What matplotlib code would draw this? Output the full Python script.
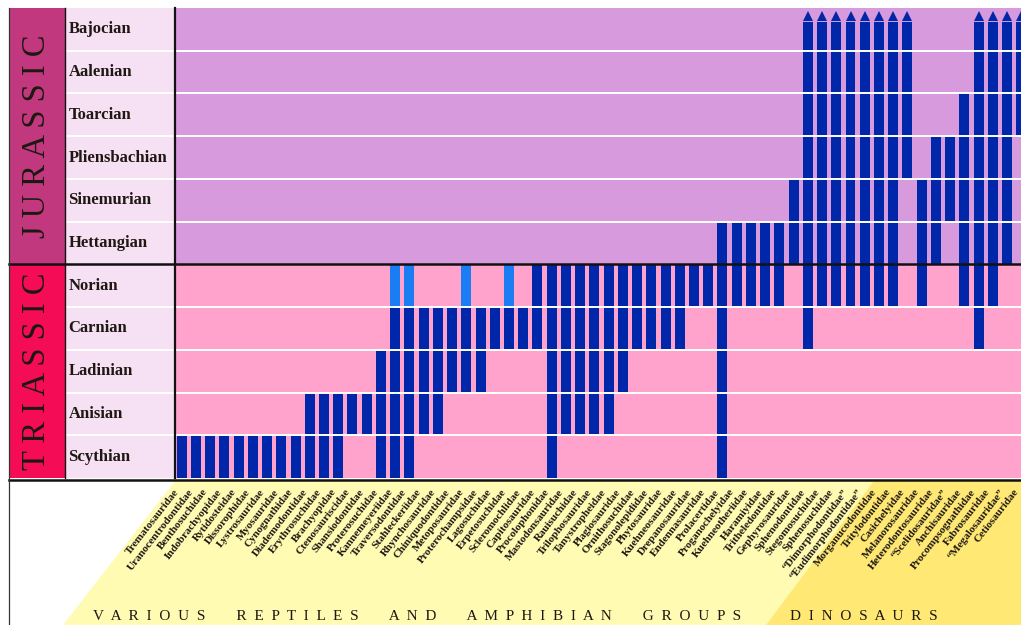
import matplotlib
matplotlib.use("Agg")
import matplotlib.pyplot as plt
from matplotlib.patches import Rectangle, Polygon
from matplotlib.lines import Line2D

# ---------------- data ----------------
stages = ["Scythian", "Anisian", "Ladinian", "Carnian", "Norian",
          "Hettangian", "Sinemurian", "Pliensbachian", "Toarcian",
          "Aalenian", "Bajocian"]
periods = ["TRIASSIC", "JURASSIC"]
period_first = [0, 5]
period_last = [4, 10]

families = [
    "Trematosauridae", "Uranocentrodontidae", "Benthosuchidae", "Indobrachyopidae",
    "Rytidosteidae", "Dissorophidae", "Lystrosauridae", "Myosauridae",
    "Cynognathidae", "Diademodontidae", "Erythrosuchidae", "Brachyopidae",
    "Ctenosauriscidae", "Shansiodontidae", "Proterosuchidae", "Kannemeyeriidae",
    "Traversodontidae", "Stahleckeriidae", "Rhynchosauridae", "Chiniquodontidae",
    "Metoposauridae", "Proterochampsidae", "Lagosuchidae", "Erpetosuchidae",
    "Scleromochlidae", "Capitosauridae", "Procolophonidae", "Mastodonsauridae",
    "Rauisuchidae", "Trilophosauridae", "Tanystropheidae", "Plagiosauridae",
    "Ornithosuchidae", "Stagonolepididae", "Phytosauridae", "Kuehneosauridae",
    "Drepanosauridae", "Endennasauridae", "Prolacertidae", "Proganochelyidae",
    "Kuehneotheriidae", "Haramiyidae", "Tritheledontidae", "Gephyrosauridae",
    "Sphenodontidae", "Stegomosuchidae", "Sphenosuchidae", "\u201cDimorphodontidae\u201d",
    "\u201cEudimorphodontidae\u201d", "Morganucodontidae", "Tritylodontidae", "Casichelyidae",
    "Melanorosauridae", "Heterodontosauridae", "\u201cScelidosauridae\u201d", "Anchisauridae",
    "Procompsognathidae", "Fabrosauridae", "\u201cMegalosauridae\u201d", "Cetiosauridae",
]
# index of first and last stage (0 = Scythian ... 10 = Bajocian)
first_stage = [0, 0, 0, 0, 0, 0, 0, 0, 0, 0, 0, 0, 1, 1, 0, 0,
               0, 1, 1, 2, 2, 2, 3, 3, 3, 3, 0, 1, 1, 1, 1, 2,
               3, 3, 3, 3, 4, 4, 0, 4, 4, 4, 4, 5, 3, 4, 4, 4,
               4, 4, 4, 7, 4, 5, 6, 4, 3, 4, 5, 8]
last_stage = [0, 0, 0, 0, 0, 0, 0, 0, 0, 1, 1, 1, 1, 1, 2, 4,
              4, 3, 3, 3, 4, 3, 3, 4, 3, 4, 4, 4, 4, 4, 4, 4,
              4, 4, 4, 4, 4, 4, 5, 5, 5, 5, 5, 6, 10, 10, 10, 10,
              10, 10, 10, 10, 6, 7, 7, 8, 10, 10, 10, 10]
# families whose Norian record is uncertain (light bars)
uncertain_norian = [15, 16, 20, 23]

group_titles = ["VARIOUS REPTILES AND AMPHIBIAN GROUPS", "DINOSAURS"]

# ---------------- style ----------------
W, H = 1021, 625
BAR = "#0027a9"
BAR_LIGHT = "#1a7df4"
JUR_BG = "#d79add"
TRI_BG = "#ffa2cc"
JUR_HDR = "#c2387f"
TRI_HDR = "#f50c57"
STAGE_BG = "#f6e0f3"
Y_LIGHT = "#fffbb2"
Y_DARK = "#ffe874"
TXT = "#1e1812"
SERIF = ["Liberation Serif", "DejaVu Serif"]


def spaced(title, gap=2, word_gap=8):
    return (" " * word_gap).join((" " * gap).join(w) for w in title.split())


fig = plt.figure(figsize=(W / 100, H / 100), dpi=100)
fig.patch.set_facecolor("white")

# background (pixel coordinates) for the bottom label area
bg = fig.add_axes([0, 0, 1, 1], zorder=0)
bg.set_xlim(0, W)
bg.set_ylim(H, 0)
bg.axis("off")
bg.add_patch(Polygon([(175, 481), (W, 481), (W, H), (63, H)], closed=True,
                     facecolor=Y_LIGHT, edgecolor="none"))
bg.add_patch(Polygon([(874, 481), (W, 481), (W, H), (766, H)], closed=True,
                     facecolor=Y_DARK, edgecolor="none"))
bg.text(93, 617, spaced(group_titles[0]), fontsize=11, family=SERIF, color=TXT,
        ha="left", va="center")
bg.text(790, 617, spaced(group_titles[1]), fontsize=11, family=SERIF, color=TXT,
        ha="left", va="center")

top_px, bot_px = 8, 478
nrows = len(stages)

# header axes (period + stage names)
hdr = fig.add_axes([9 / W, (H - bot_px) / H, (174 - 9) / W, (bot_px - top_px) / H], zorder=2)
hdr.set_xlim(9, 174)
hdr.set_ylim(0, nrows)
hdr.axis("off")
for name, f, l, c in zip(periods, period_first, period_last, [TRI_HDR, JUR_HDR]):
    hdr.add_patch(Rectangle((9, f), 56, l - f + 1, facecolor=c, edgecolor="none"))
    hdr.text(37, (f + l + 1) / 2, " ".join(name), rotation=90, ha="center", va="center",
             fontsize=23.5, family=SERIF, color=TXT)
hdr.add_patch(Rectangle((65, 0), 109, nrows, facecolor=STAGE_BG, edgecolor="none"))
for k, s in enumerate(stages):
    hdr.text(68.5, k + 0.5, s, ha="left", va="center", fontsize=12, family=SERIF,
             color=TXT, fontweight="bold")
for k in range(1, nrows):
    if k != 5:
        hdr.plot([65, 174], [k, k], color="white", lw=1.4, solid_capstyle="butt")

# main chart axes
ax = fig.add_axes([175 / W, (H - bot_px) / H, (W - 175) / W, (bot_px - top_px) / H], zorder=2)
x0 = (175 - 181.7) / 14.23
x1 = (W - 181.7) / 14.23
ax.set_xlim(x0, x1)
ax.set_ylim(0, nrows)
ax.axis("off")
ax.add_patch(Rectangle((x0, 0), x1 - x0, 5, facecolor=TRI_BG, edgecolor="none", zorder=0))
ax.add_patch(Rectangle((x0, 5), x1 - x0, 6, facecolor=JUR_BG, edgecolor="none", zorder=0))

xs = list(range(len(families)))
tops = [l + 1 if l < nrows - 1 else nrows - 0.32 for l in last_stage]
heights = [t - f for t, f in zip(tops, first_stage)]
ax.bar(xs, heights, bottom=first_stage, width=0.70, color=BAR, linewidth=0, zorder=2)
ax.bar(uncertain_norian, [1] * len(uncertain_norian), bottom=4, width=0.70,
       color=BAR_LIGHT, linewidth=0, zorder=3)
arrow_x = [i for i, l in enumerate(last_stage) if l == nrows - 1]
ax.plot(arrow_x, [nrows - 0.19] * len(arrow_x), linestyle="none", marker="^",
        markersize=7.5, color=BAR, markeredgewidth=0, zorder=3, clip_on=False)
for k in range(1, nrows):
    if k != 5:
        ax.plot([x0, x1], [k, k], color="white", lw=1.4, zorder=4, solid_capstyle="butt")

# family labels
for i, name in enumerate(families):
    ax.text(i - 0.3, -0.026, name, rotation=52, rotation_mode="anchor",
            ha="right", va="center", fontsize=7.9, family=SERIF, color=TXT,
            fontweight="bold", transform=ax.get_xaxis_transform(), clip_on=False)

# frame lines (pixel coordinates overlay)
ov = fig.add_axes([0, 0, 1, 1], zorder=5)
ov.set_xlim(0, W)
ov.set_ylim(H, 0)
ov.axis("off")
ov.patch.set_alpha(0)
y_bound = bot_px - 5 * (bot_px - top_px) / nrows
ov.add_line(Line2D([9, W], [y_bound, y_bound], color="#111111", lw=1.8))
ov.add_line(Line2D([9, W], [479.5, 479.5], color="#111111", lw=1.8))
ov.add_line(Line2D([65, 65], [top_px, bot_px], color="#111111", lw=1.0))
ov.add_line(Line2D([174.5, 174.5], [top_px, bot_px], color="#111111", lw=1.6))
ov.add_line(Line2D([9, 9], [top_px, H], color="#333333", lw=0.9))

fig.savefig("out.png", dpi=100)
